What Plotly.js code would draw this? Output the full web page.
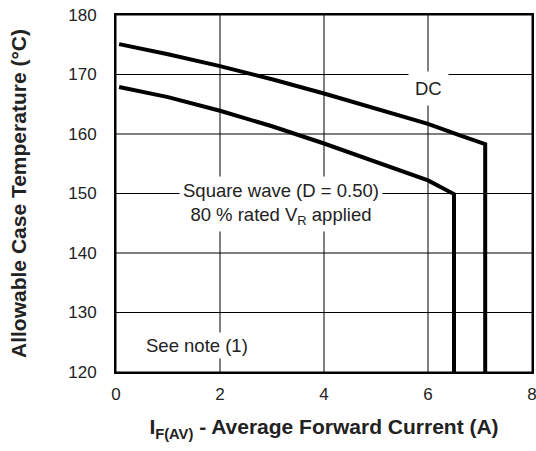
<!DOCTYPE html>
<html><head><meta charset="utf-8">
<script src="https://cdn.plot.ly/plotly-3.0.1.min.js"></script>
<style>body{margin:0;background:#fff}#c{width:536px;height:451px}</style>
</head><body><div id="c"></div>
<script>
const dcX = [0.06, 0.4, 1.0, 2.0, 3.0, 4.0, 5.0, 6.0, 6.6, 7.1, 7.1];
const dcY = [175.1, 174.5, 173.4, 171.4, 169.2, 166.8, 164.3, 161.7, 159.8, 158.3, 120];
const sqX = [0.06, 0.4, 1.0, 2.0, 3.0, 4.0, 5.0, 6.0, 6.5, 6.5];
const sqY = [167.9, 167.3, 166.2, 163.9, 161.3, 158.4, 155.3, 152.2, 149.9, 120];
const xTicks = [0, 2, 4, 6, 8];
const yTicks = [120, 130, 140, 150, 160, 170, 180];

const font = 'Liberation Sans, Arial, sans-serif';
const traces = [
  {x: dcX, y: dcY, mode: 'lines', line: {color: '#000', width: 4}, hoverinfo: 'skip'},
  {x: sqX, y: sqY, mode: 'lines', line: {color: '#000', width: 4}, hoverinfo: 'skip'}
];
const shapes = [];
xTicks.forEach(v => shapes.push({type: 'line', xref: 'x', yref: 'paper', x0: v, x1: v, y0: 0, y1: 1, layer: 'below', line: {color: '#000', width: 1}}));
yTicks.forEach(v => shapes.push({type: 'line', xref: 'paper', yref: 'y', x0: 0, x1: 1, y0: v, y1: v, layer: 'below', line: {color: '#000', width: 1}}));

const layout = {
  width: 536, height: 451,
  margin: {l: 116, r: 4, t: 15, b: 79},
  paper_bgcolor: '#fff', plot_bgcolor: '#fff',
  showlegend: false,
  font: {family: font, color: '#222', size: 17},
  shapes: shapes,
  xaxis: {
    range: [0, 8], tickvals: xTicks, ticks: '', showgrid: false,
    showline: true, linecolor: '#000', linewidth: 2, mirror: true, zeroline: false,
    ticklabelstandoff: 6, ticklabeloverflow: 'allow',
    tickfont: {size: 17, color: '#222'},
    title: {text: 'I<sub>F(AV)</sub> - Average Forward Current (A)', font: {size: 21, color: '#222', weight: 'bold'}, standoff: 16}
  },
  yaxis: {
    range: [120, 180], tickvals: yTicks, ticks: '', showgrid: false,
    showline: true, linecolor: '#000', linewidth: 2, mirror: true, zeroline: false,
    ticklabelstandoff: 14, ticklabeloverflow: 'allow',
    tickfont: {size: 17, color: '#222'},
    title: {text: 'Allowable Case Temperature (°C)', font: {size: 21, color: '#222', weight: 'bold'}, standoff: 36}
  },
  annotations: [
    {x: 6.0, y: 167.7, xref: 'x', yref: 'y', text: 'DC', showarrow: false, bgcolor: '#fff', borderpad: 6, font: {size: 18.5, color: '#222'}},
    {x: 3.17, y: 148.3, xref: 'x', yref: 'y', text: 'Square wave (D = 0.50)<br>80 % rated V<sub>R</sub> applied', showarrow: false, bgcolor: '#fff', borderpad: 3, font: {size: 18.5, color: '#222'}},
    {x: 1.56, y: 124.4, xref: 'x', yref: 'y', text: 'See note (1)', showarrow: false, bgcolor: '#fff', borderpad: 2, font: {size: 18.5, color: '#222'}}
  ]
};
Plotly.newPlot('c', traces, layout, {staticPlot: true});
</script></body></html>
